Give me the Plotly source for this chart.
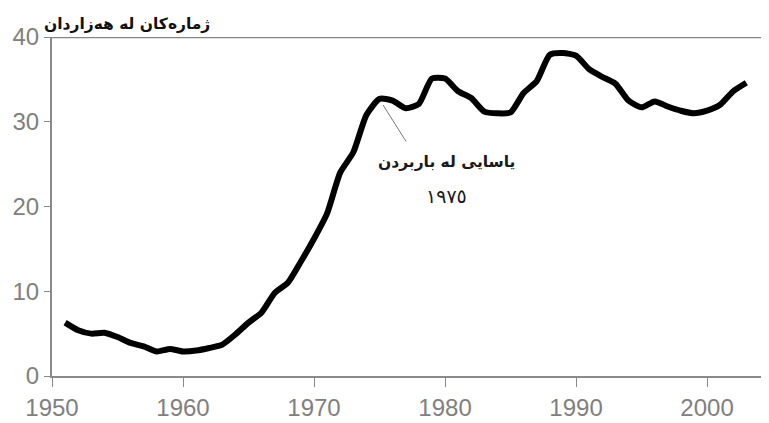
import plotly.graph_objects as go

years = list(range(1951, 2004))
values = [6.3, 5.4, 5.0, 5.1, 4.6, 3.9, 3.5, 2.9, 3.2, 2.9,
          3.0, 3.3, 3.7, 4.9, 6.3, 7.5, 9.8, 11.0, 13.5, 16.2,
          19.2, 24.0, 26.4, 30.8, 32.7, 32.5, 31.6, 32.1, 35.1, 35.1,
          33.6, 32.8, 31.2, 31.0, 31.1, 33.4, 34.8, 37.9, 38.1, 37.8,
          36.2, 35.3, 34.5, 32.5, 31.7, 32.4, 31.8, 31.3, 31.0, 31.3,
          32.0, 33.6, 34.6]

x_ticks = [1950, 1960, 1970, 1980, 1990, 2000]
y_ticks = [0, 10, 20, 30, 40]
y_title = "ژمارەکان له هەزاردان"
note_line1 = "یاسایی له باربردن"
note_line2 = "١٩٧٥"
note_year = 1975
note_value = 32.7

tick_font = dict(family="Liberation Sans, Arial", size=24, color="#808080")

fig = go.Figure()
fig.add_trace(go.Scatter(
    x=years, y=values, mode="lines",
    line=dict(color="black", width=6, shape="spline", smoothing=0.6),
    hoverinfo="skip", showlegend=False,
))

fig.add_annotation(
    x=note_year + 0.27, y=31.98, xref="x", yref="y",
    ax=note_year + 2.1, ay=27.5, axref="x", ayref="y",
    showarrow=True, arrowhead=0, arrowwidth=1, arrowcolor="#777777",
    text="",
)
fig.add_annotation(
    x=note_year + 5.08, y=25.25, xref="x", yref="y",
    text="<b>" + note_line1 + "</b>", showarrow=False,
    font=dict(family="DejaVu Sans", size=15.5, color="#1a1a1a"),
    xanchor="center", yanchor="middle",
)
fig.add_annotation(
    x=note_year + 5.08, y=21.2, xref="x", yref="y",
    text=note_line2, showarrow=False,
    font=dict(family="DejaVu Sans", size=19, color="#1a1a1a"),
    xanchor="center", yanchor="middle",
)
fig.add_annotation(
    x=0, y=1.0, xref="paper", yref="paper",
    text="<b>" + y_title + "</b>", showarrow=False,
    xanchor="left", yanchor="bottom", xshift=-10, yshift=2,
    font=dict(family="DejaVu Sans", size=15.5, color="#111111"),
)

fig.add_shape(type="line", xref="paper", yref="y", x0=0, x1=1, y0=40, y1=40,
              line=dict(color="#858585", width=2.5))

fig.update_layout(
    width=769, height=423,
    margin=dict(l=44, r=8, t=29, b=55),
    paper_bgcolor="white", plot_bgcolor="white",
    xaxis=dict(
        range=[1950, 2004.73], tickvals=x_ticks, showgrid=False, zeroline=False,
        showline=True, linecolor="#8a8a8a", linewidth=2, automargin=False,
        ticks="outside", ticklen=9, tickcolor="#8a8a8a", tickwidth=1,
        tickfont=tick_font,
    ),
    yaxis=dict(
        range=[0, 40], tickvals=y_ticks, showgrid=False, zeroline=False,
        showline=True, linecolor="#8a8a8a", linewidth=2, automargin=False,
        ticks="outside", ticklen=6, tickcolor="#8a8a8a", tickwidth=1,
        tickfont=tick_font,
    ),
)

fig.write_html("out.html")
